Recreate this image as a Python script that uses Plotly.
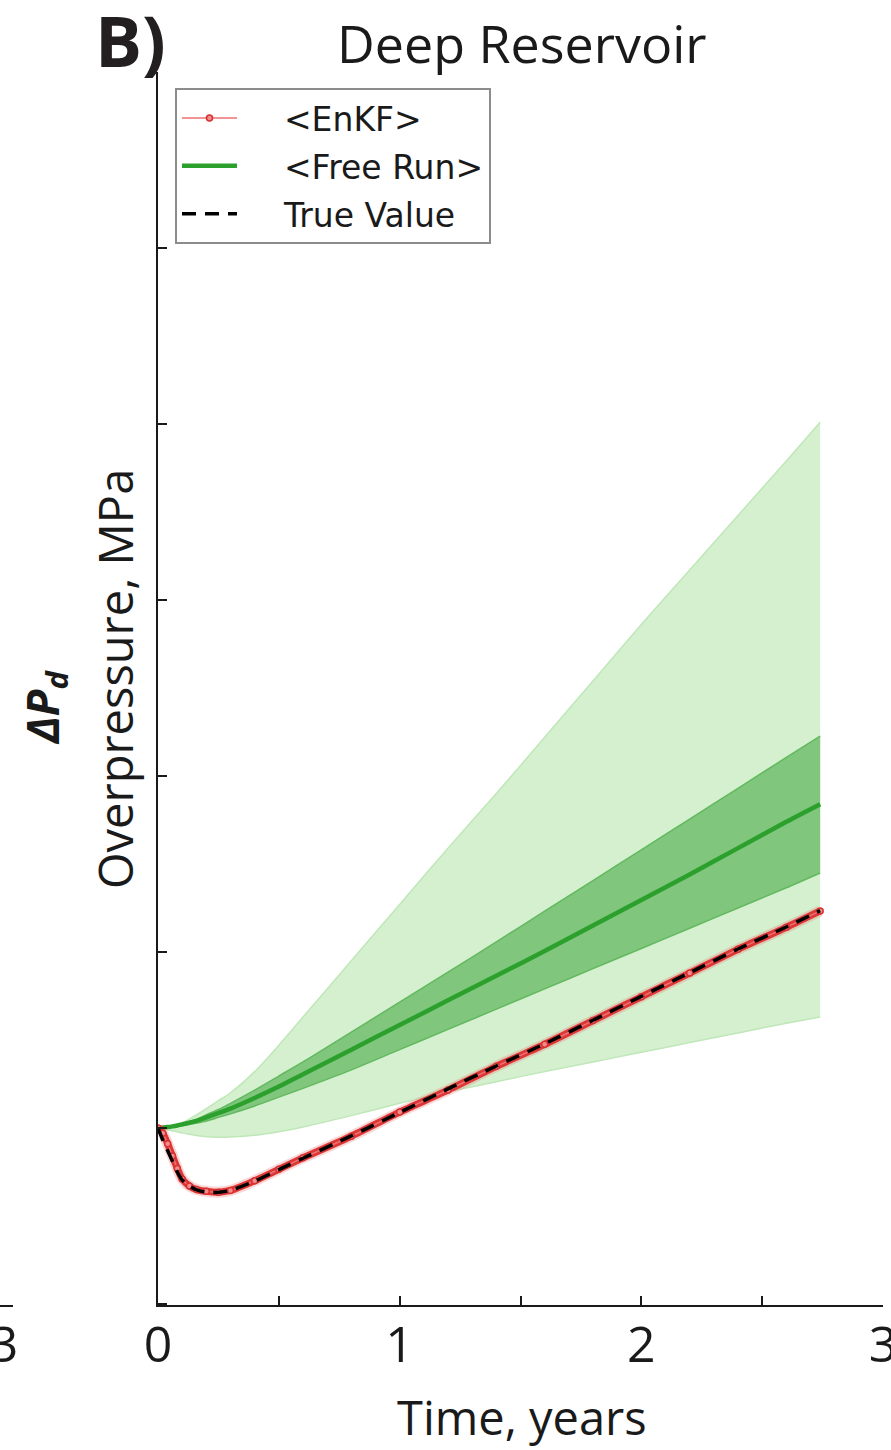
import plotly.graph_objects as go

# ---- data ----
t = [0, 0.02, 0.04, 0.06, 0.08, 0.10, 0.13, 0.16, 0.20, 0.25, 0.30, 0.40, 0.50,
     0.60, 0.80, 1.00, 1.20, 1.40, 1.60, 1.80, 2.00, 2.20, 2.40, 2.60, 2.74]

enkf = [0, -0.03, -0.09, -0.16, -0.23, -0.29, -0.33, -0.35, -0.36, -0.365, -0.355,
        -0.30, -0.235, -0.17, -0.047, 0.09, 0.215, 0.35, 0.475, 0.61, 0.745,
        0.88, 1.015, 1.14, 1.233]

true_val = [0, -0.07, -0.13, -0.19, -0.25, -0.295, -0.33, -0.352, -0.365, -0.366,
            -0.355, -0.302, -0.237, -0.172, -0.045, 0.088, 0.222, 0.352, 0.478,
            0.612, 0.748, 0.882, 1.017, 1.142, 1.235]

free_mean = [0, 0.002, 0.005, 0.009, 0.014, 0.02, 0.03, 0.04, 0.06, 0.085, 0.11,
             0.17, 0.235, 0.305, 0.445, 0.585, 0.725, 0.865, 1.005, 1.15, 1.295,
             1.44, 1.59, 1.74, 1.84]

dark_hi = [0, 0.003, 0.007, 0.012, 0.018, 0.025, 0.037, 0.05, 0.075, 0.105, 0.14,
           0.215, 0.295, 0.375, 0.545, 0.715, 0.885, 1.057, 1.232, 1.406, 1.58,
           1.755, 1.93, 2.105, 2.227]

dark_lo = [0, 0.001, 0.003, 0.006, 0.009, 0.013, 0.02, 0.028, 0.04, 0.06, 0.08,
           0.125, 0.175, 0.225, 0.33, 0.445, 0.56, 0.675, 0.79, 0.905, 1.02,
           1.135, 1.25, 1.365, 1.449]

light_hi = [0, 0.002, 0.006, 0.012, 0.02, 0.03, 0.05, 0.075, 0.11, 0.155, 0.2,
            0.32, 0.47, 0.63, 0.95, 1.27, 1.59, 1.9, 2.22, 2.54, 2.86, 3.17,
            3.48, 3.79, 4.01]

light_lo = [0, -0.005, -0.01, -0.016, -0.022, -0.028, -0.036, -0.043, -0.05, -0.053,
            -0.052, -0.042, -0.022, 0.005, 0.07, 0.14, 0.205, 0.263, 0.32, 0.375,
            0.43, 0.485, 0.54, 0.595, 0.631]

x_tickvals = [0, 1, 2, 3]
x_ticktext = ["0", "1", "2", "3"]
x_minorvals = [0.5, 1.5, 2.5]
y_tickvals = [-1, 0, 1, 2, 3, 4, 5, 6]

FONT = "Open Sans"
INK = "#1a1a1a"
W, H = 891, 1450
ML, MR, MT, MB = 0, 8, 72, 145
PW = W - ML - MR
PH = H - MT - MB


def px(xp):
    return (xp - ML) / PW


def py(yp):
    return (H - MB - yp) / PH


NB = "\u00a0" * 4
SM = dict(shape="spline", smoothing=0.8)

fig = go.Figure()

# light band (outer spread)
fig.add_trace(go.Scatter(x=t, y=light_lo, mode="lines",
                         line=dict(color="#bfe7b8", width=1.5, **SM),
                         showlegend=False, hoverinfo="skip"))
fig.add_trace(go.Scatter(x=t, y=light_hi, mode="lines", fill="tonexty",
                         fillcolor="#d4f0cf",
                         line=dict(color="#bfe7b8", width=1.5, **SM),
                         showlegend=False, hoverinfo="skip"))
# dark band
fig.add_trace(go.Scatter(x=t, y=dark_lo, mode="lines",
                         line=dict(color="#62b95f", width=1.5, **SM),
                         showlegend=False, hoverinfo="skip"))
fig.add_trace(go.Scatter(x=t, y=dark_hi, mode="lines", fill="tonexty",
                         fillcolor="#80c67d",
                         line=dict(color="#62b95f", width=1.5, **SM),
                         showlegend=False, hoverinfo="skip"))
# free run mean
fig.add_trace(go.Scatter(x=t, y=free_mean, mode="lines", name=NB + "&lt;Free Run&gt;",
                         line=dict(color="#2ca02c", width=4.5, **SM),
                         legendrank=2, legendgroup="b"))
# EnKF thick band (halo + core)
fig.add_trace(go.Scatter(x=t, y=enkf, mode="lines",
                         line=dict(color="rgba(240,120,120,0.3)", width=11,
                                   shape="spline", smoothing=0.6),
                         showlegend=False, hoverinfo="skip"))
fig.add_trace(go.Scatter(x=t, y=enkf, mode="lines",
                         line=dict(color="#dc3636", width=7, shape="spline", smoothing=0.6),
                         showlegend=False, hoverinfo="skip"))
fig.add_trace(go.Scatter(x=t, y=enkf, mode="lines+markers", name=NB + "&lt;EnKF&gt;",
                         line=dict(color="#ee7070", width=1.5, shape="spline", smoothing=0.6),
                         marker=dict(symbol="circle", size=6, color="#f28c8c",
                                     line=dict(color="#d83030", width=1.5)),
                         legendrank=1, legendgroup="a"))
# true value
fig.add_trace(go.Scatter(x=t, y=true_val, mode="lines", name=NB + "True Value",
                         line=dict(color="black", width=3.5, dash="14px,9px",
                                   shape="spline", smoothing=0.6),
                         legendrank=3, legendgroup="c"))

axis_common = dict(showline=True, linecolor=INK, linewidth=2, ticks="inside",
                   ticklen=9, tickwidth=1.5, tickcolor=INK, showgrid=False,
                   zeroline=False, mirror=False, automargin=False)

fig.update_layout(
    width=W, height=H,
    margin=dict(l=ML, r=MR, t=MT, b=MB, autoexpand=False),
    paper_bgcolor="white", plot_bgcolor="white",
    font=dict(family=FONT, color=INK),
    xaxis=dict(domain=[px(158), 1], range=[0, 3], tickvals=x_tickvals,
               ticktext=x_ticktext, tickfont=dict(size=50, family=FONT),
               ticklabeloverflow="allow", ticklabelstandoff=-5,
               minor=dict(tickvals=x_minorvals, ticks="inside", ticklen=9,
                          tickwidth=1.5, tickcolor=INK, showgrid=False),
               anchor="y", **axis_common),
    xaxis2=dict(domain=[0, px(13)], range=[2.9, 3.0], tickvals=[3],
                ticktext=["3"], tickfont=dict(size=50, family=FONT),
                ticklabeloverflow="allow", ticklabelshift=-9, ticklabelstandoff=-5,
                anchor="y", **axis_common),
    yaxis=dict(domain=[0, 1], range=[-1.006, 6.0], tickvals=y_tickvals,
               showticklabels=False, anchor="x", **axis_common),
    legend=dict(x=px(175), y=py(88), xanchor="left", yanchor="top",
                bgcolor="white", bordercolor="#8c8c8c", borderwidth=2,
                font=dict(family="DejaVu Sans", size=33, color=INK),
                tracegroupgap=2, itemwidth=55),
    showlegend=True,
)

fig.add_trace(go.Scatter(x=[3], y=[None], xaxis="x2", yaxis="y", mode="lines",
                         showlegend=False, hoverinfo="skip"))

annots = [
    dict(text="<b>B)</b>", x=px(130), y=py(40), font=dict(size=70, family=FONT, color="#231f20")),
    dict(text="Deep Reservoir", x=px(522), y=py(42), font=dict(size=52, family=FONT, color=INK)),
    dict(text="Time, years", x=px(522), y=py(1417), font=dict(size=47, family=FONT, color=INK)),
    dict(text="Overpressure, MPa", x=px(115), y=py(679), textangle=-90,
         font=dict(size=47, family=FONT, color=INK)),
    dict(text="<b><i>ΔP<sub>d</sub></i></b>", x=px(44), y=py(708), textangle=-90,
         font=dict(size=44, family=FONT, color=INK)),
]
for a in annots:
    fig.add_annotation(xref="paper", yref="paper", showarrow=False,
                       xanchor="center", yanchor="middle", **a)

fig.write_html("out.html", config={"displayModeBar": False},
               post_script="document.body.style.margin='0';")
